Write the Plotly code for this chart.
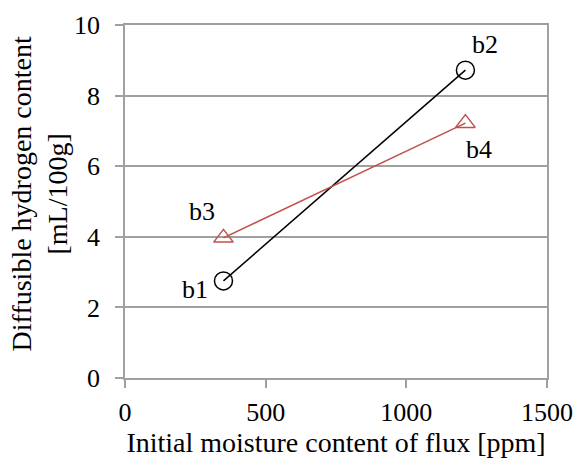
import plotly.graph_objects as go

x_black = [350, 1210]
y_black = [2.75, 8.72]
x_red = [350, 1210]
y_red = [3.97, 7.22]
labels = ["b1", "b2", "b3", "b4"]
label_x = [250, 1280, 272, 1260]
label_y = [2.52, 9.45, 4.73, 6.48]
x_title = "Initial moisture content of flux [ppm]"
y_title = "Diffusible hydrogen content<br>[mL/100g]"

font_family = "Liberation Serif, Times New Roman, serif"
fig = go.Figure()
fig.add_trace(go.Scatter(x=x_black, y=y_black, mode="lines+markers",
                         line=dict(color="black", width=1.5),
                         marker=dict(symbol="circle-open", size=18, color="black", line=dict(width=1.5))))
fig.add_trace(go.Scatter(x=x_red, y=y_red, mode="lines+markers",
                         line=dict(color="#c0504d", width=1.5),
                         marker=dict(symbol="triangle-up-open", size=17, color="#c0504d", line=dict(width=1.5))))
for t, xx, yy in zip(labels, label_x, label_y):
    fig.add_annotation(x=xx, y=yy, text=t, showarrow=False,
                       font=dict(family=font_family, size=26, color="black"))

fig.add_annotation(x=0, y=0.52, xref="paper", yref="paper", xanchor="center", yanchor="middle",
                   xshift=-86, text=y_title, textangle=-90, showarrow=False, align="center",
                   font=dict(family=font_family, size=28, color="black"))

fig.update_layout(
    width=576, height=462,
    margin=dict(l=125, r=29, t=25, b=84),
    paper_bgcolor="white", plot_bgcolor="white",
    showlegend=False,
    font=dict(family=font_family, size=26, color="black"),
)
fig.update_xaxes(range=[0, 1500], tickvals=[0, 500, 1000, 1500], showgrid=False,
                 showline=True, linecolor="#a0a0a0", linewidth=1.5, mirror=True,
                 ticks="outside", ticklen=8, tickcolor="#a0a0a0", tickwidth=1.5,
                 zeroline=False, automargin=False, ticklabelstandoff=2,
                 title=dict(text=x_title, font=dict(size=28), standoff=4))
fig.update_yaxes(range=[0, 10], tickvals=[0, 2, 4, 6, 8, 10], showgrid=True,
                 gridcolor="#a0a0a0", gridwidth=1.5,
                 showline=True, linecolor="#a0a0a0", linewidth=1.5, mirror=True,
                 ticks="outside", ticklen=8, tickcolor="#a0a0a0", tickwidth=1.5,
                 zeroline=False, automargin=False, ticklabelstandoff=10)
fig.write_html("out.html", config={"displayModeBar": False},
               post_script="document.body.style.margin='0';")
